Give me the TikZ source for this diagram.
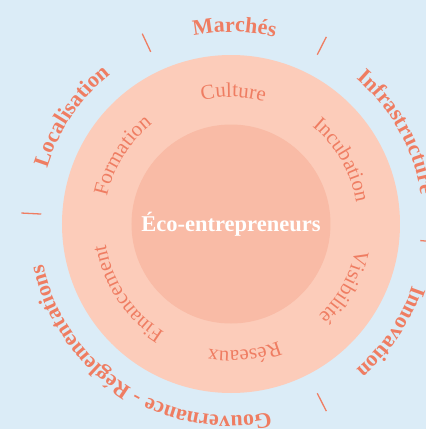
\documentclass[tikz,border=0pt]{standalone}
\usepackage{fontspec}
\setmainfont{Liberation Serif}
\usetikzlibrary{decorations.text}
\definecolor{bgblue}{HTML}{DBECF7}
\definecolor{ringpeach}{HTML}{FCCCBA}
\definecolor{corepeach}{HTML}{F9BBA6}
\definecolor{coral}{HTML}{EF7D62}
\begin{document}
\begin{tikzpicture}[x=1pt,y=1pt,
  outerlabel/.style={decoration={text along path, text align=center, text color=coral,
     text={|\fontsize{22}{24}\selectfont\bfseries|#1}}, decorate},
  innerlabel/.style={decoration={text along path, text align=center, text color=coral,
     text={|\fontsize{21}{24}\selectfont|#1}}, decorate},
  sep/.style={draw=coral, line width=1.3pt}
]
\fill[bgblue] (-231,-205) rectangle (195,224);
\useasboundingbox (-231,-205) rectangle (195,224);
\node[circle, fill=ringpeach, minimum size=338pt, inner sep=0pt] (ring) at (0,0) {};
\node[circle, fill=corepeach, minimum size=199pt, inner sep=0pt, text=white,
      font=\fontsize{22.5}{24}\selectfont\bfseries] (core) at (0,0) {Éco-entrepreneurs};
% separators
\foreach \a in {177,115,63,-5,-63} \draw[sep] (\a:190) -- (\a:210);
% outer labels
\path[outerlabel=Localisation] (146+60:192) arc[start angle=206, end angle=86, radius=192];
\path[outerlabel=Marchés] (89+60:192) arc[start angle=149, end angle=29, radius=192];
\path[outerlabel=Infrastructure] (29+60:192) arc[start angle=89, end angle=-31, radius=192];
\path[outerlabel=Innovation] (-34+60:192) arc[start angle=26, end angle=-94, radius=192];
\path[outerlabel=Gouvernance - Réglementations] (-123+80:192) arc[start angle=-43, end angle=-203, radius=192];
% inner labels
\path[innerlabel=Culture] (89+60:127) arc[start angle=149, end angle=29, radius=127];
\path[innerlabel=Incubation] (30+60:127) arc[start angle=90, end angle=-30, radius=127];
\path[innerlabel=Visibilité] (-29+60:127) arc[start angle=31, end angle=-89, radius=127];
\path[innerlabel=Réseaux] (-84+60:127) arc[start angle=-24, end angle=-144, radius=127];
\path[innerlabel=Financement] (-146+60:127) arc[start angle=-86, end angle=-206, radius=127];
\path[innerlabel=Formation] (148+60:127) arc[start angle=208, end angle=88, radius=127];
\end{tikzpicture}
\end{document}
